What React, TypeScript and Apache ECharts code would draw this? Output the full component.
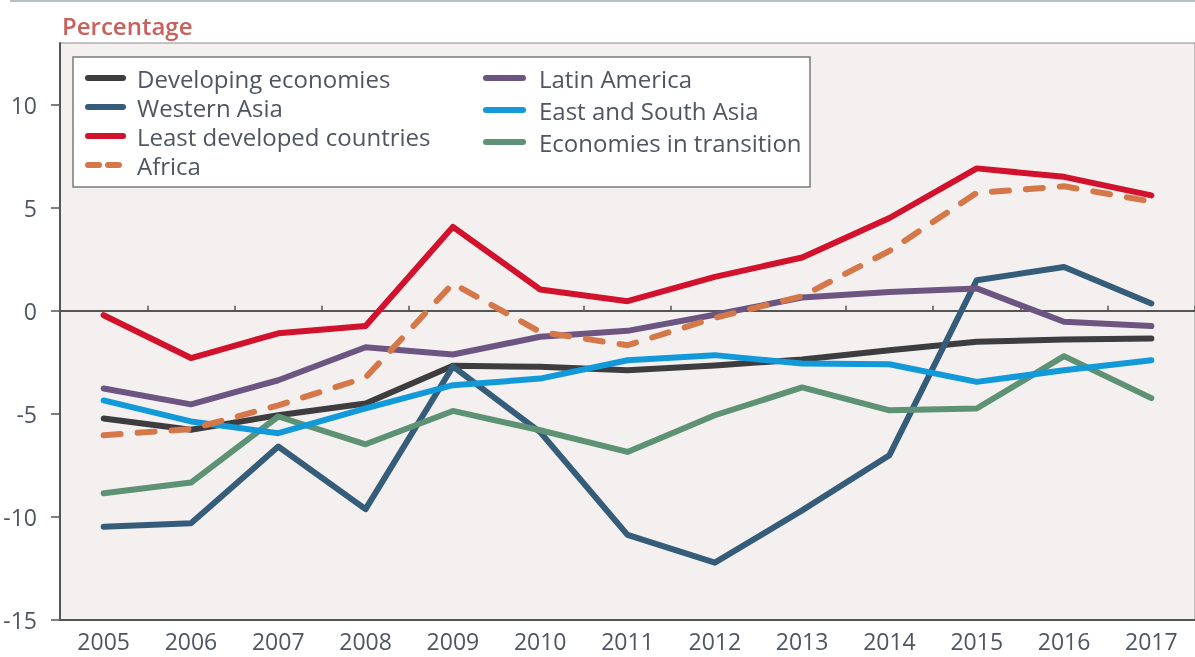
import React, { useEffect, useRef } from "react";
import * as echarts from "echarts";

const years = ["2005","2006","2007","2008","2009","2010","2011","2012","2013","2014","2015","2016","2017"];
const developing = [-5.24,-5.78,-5.08,-4.51,-2.68,-2.73,-2.89,-2.66,-2.37,-1.92,-1.51,-1.4,-1.35];
const westernAsia = [-10.49,-10.33,-6.6,-9.64,-2.71,-5.9,-10.89,-12.24,-9.7,-7.02,1.48,2.12,0.35];
const ldc = [-0.22,-2.3,-1.1,-0.74,4.07,1.03,0.46,1.64,2.58,4.5,6.91,6.5,5.6];
const africa = [-6.05,-5.75,-4.6,-3.25,1.32,-1.03,-1.68,-0.35,0.7,2.9,5.72,6.04,5.3];
const latinAmerica = [-3.78,-4.55,-3.38,-1.78,-2.13,-1.27,-0.98,-0.2,0.64,0.91,1.08,-0.54,-0.75];
const eastSouthAsia = [-4.36,-5.38,-5.95,-4.75,-3.62,-3.3,-2.41,-2.16,-2.57,-2.6,-3.46,-2.89,-2.41];
const transition = [-8.87,-8.35,-5.14,-6.49,-4.87,-5.81,-6.86,-5.08,-3.73,-4.84,-4.75,-2.21,-4.25];

const FONT = "'Open Sans', 'Noto Sans', sans-serif";
const TEXT = "#4f5662";
const AXIS = "#555555";

export default function App() {
  const ref = useRef<HTMLDivElement>(null);
  useEffect(() => {
    if (!ref.current) return;
    const chart = echarts.init(ref.current, null, { renderer: "svg" });
    const mk = (name: string, data: number[], color: string, dash?: any) => ({
      name,
      type: "line",
      data,
      symbol: "none",
      xAxisIndex: 0,
      lineStyle: { color, width: 6, cap: "round", join: "round", type: dash || "solid" },
      itemStyle: { color },
    });
    const legendCommon = {
      orient: "vertical",
      top: 66,
      padding: 0,
      itemHeight: 14,
      itemStyle: { opacity: 0 },
      lineStyle: { width: 6, cap: "round" },
      selectedMode: false,
    };
    chart.setOption({
      animation: false,
      textStyle: { fontFamily: FONT },
      grid: {
        left: 60, right: -6, top: 43, bottom: 37.5,
        show: true, backgroundColor: "#f5f0f0", borderColor: "#8a8a8a", borderWidth: 1,
      },
      graphic: [
        { type: "line", z: 5, shape: { x1: 10, y1: 1, x2: 1195, y2: 1 }, style: { stroke: "#b7bfc7", lineWidth: 2 } },
        { type: "text", z: 5, x: 62, y: 25, style: { text: "Percentage", font: "600 24px 'Open Sans', sans-serif", fill: "#c8605c", verticalAlign: "middle" } },
        { type: "rect", z: 3, shape: { x: 73, y: 57, width: 737, height: 130 }, style: { fill: "#ffffff", stroke: "#7a7a7a", lineWidth: 1.5 } },
      ],
      legend: [
        { ...legendCommon, left: 85, itemGap: 5, itemWidth: 35,
          textStyle: { fontFamily: FONT, fontSize: 24, color: TEXT, lineHeight: 24, padding: [0, 0, 0, 9] },
          data: ["Developing economies", "Western Asia", "Least developed countries",
            { name: "Africa", lineStyle: { type: [11, 9], width: 6, cap: "round" } }] },
        { ...legendCommon, left: 483, itemGap: 8, itemWidth: 37,
          textStyle: { fontFamily: FONT, fontSize: 24, color: TEXT, lineHeight: 24, padding: [0, 0, 0, 11] },
          data: ["Latin America", "East and South Asia", "Economies in transition"] },
      ],
      xAxis: [
        {
          type: "category", data: years, position: "bottom",
          axisLine: { onZero: false, lineStyle: { color: AXIS, width: 2 } },
          axisTick: { show: false },
          axisLabel: { fontFamily: FONT, fontSize: 23, color: TEXT, margin: 10 },
        },
        {
          type: "category", data: years, position: "bottom",
          axisLine: { onZero: true, lineStyle: { color: AXIS, width: 2 } },
          axisTick: { show: true, inside: true, length: 5, lineStyle: { color: AXIS, width: 1.5 } },
          axisLabel: { show: false },
        },
      ],
      yAxis: {
        type: "value", min: -15, max: 13, interval: 5,
        axisLine: { show: true, lineStyle: { color: AXIS, width: 2 } },
        axisTick: { show: true, length: 9, lineStyle: { color: AXIS, width: 1.5 } },
        splitLine: { show: false },
        axisLabel: { fontFamily: FONT, fontSize: 23, color: TEXT, margin: 23, showMaxLabel: false },
      },
      series: [
        mk("Developing economies", developing, "#3d3d40"),
        mk("Western Asia", westernAsia, "#355d7a"),
        mk("Economies in transition", transition, "#5e9274"),
        mk("East and South Asia", eastSouthAsia, "#1199da"),
        mk("Latin America", latinAmerica, "#6c5581"),
        mk("Africa", africa, "#d4784a", [17, 17]),
        mk("Least developed countries", ldc, "#d2112c"),
      ],
    });
    return () => chart.dispose();
  }, []);
  return <div ref={ref} style={{ position: "fixed", left: 0, top: 0, width: 1195, height: 657 }} />;
}
